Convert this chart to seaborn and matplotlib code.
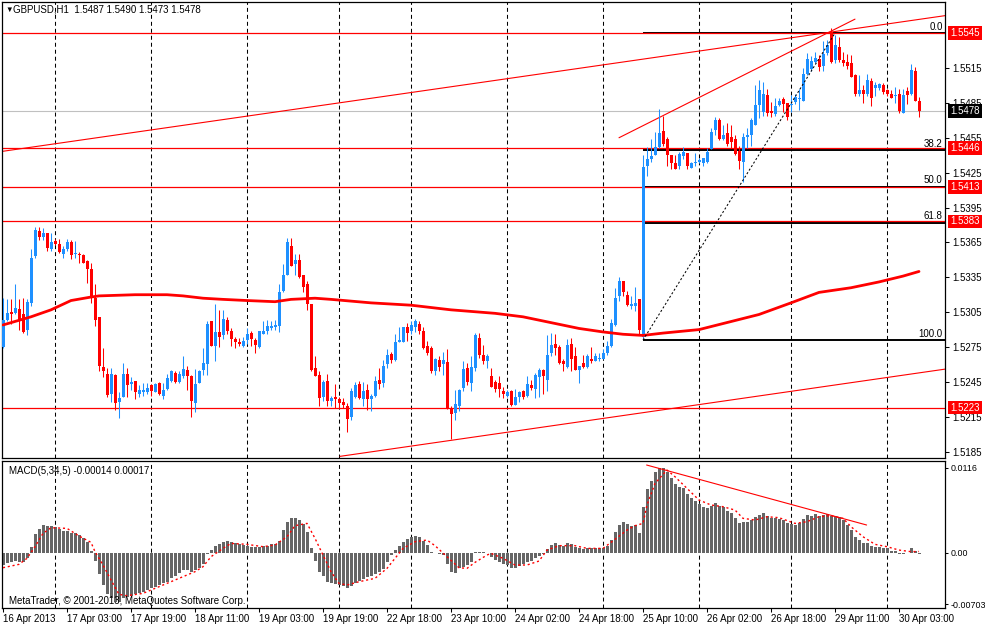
import numpy as np
import matplotlib
matplotlib.use("Agg")
import matplotlib.pyplot as plt
import seaborn as sns

# GBPUSD H1 bars (open, high, low, close)
opens = [
    1.5275, 1.5298, 1.5305, 1.5304, 1.5308, 1.5303, 1.5290, 1.5313, 1.5353, 1.5375,
    1.5370, 1.5373, 1.5359, 1.5366, 1.5364, 1.5355, 1.5359, 1.5365, 1.5355, 1.5355,
    1.5354, 1.5349, 1.5342, 1.5317, 1.5301, 1.5258, 1.5252, 1.5235, 1.5251, 1.5228,
    1.5232, 1.5252, 1.5243, 1.5246, 1.5235, 1.5236, 1.5236, 1.5242, 1.5236, 1.5244,
    1.5233, 1.5239, 1.5246, 1.5253, 1.5245, 1.5250, 1.5255, 1.5250, 1.5227, 1.5244,
    1.5255, 1.5260, 1.5297, 1.5276, 1.5288, 1.5285, 1.5298, 1.5289, 1.5282, 1.5279,
    1.5276, 1.5281, 1.5287, 1.5281, 1.5275, 1.5286, 1.5289, 1.5291, 1.5292, 1.5293,
    1.5323, 1.5337, 1.5362, 1.5346, 1.5350, 1.5337, 1.5329, 1.5312, 1.5257, 1.5251,
    1.5232, 1.5246, 1.5229, 1.5232, 1.5230, 1.5228, 1.5224, 1.5215, 1.5232, 1.5243,
    1.5230, 1.5238, 1.5230, 1.5233, 1.5247, 1.5244, 1.5260, 1.5269, 1.5264, 1.5279,
    1.5279, 1.5292, 1.5289, 1.5292, 1.5295, 1.5289, 1.5276, 1.5274, 1.5254, 1.5264,
    1.5260, 1.5262, 1.5222, 1.5218, 1.5224, 1.5240, 1.5257, 1.5244, 1.5257, 1.5283,
    1.5268, 1.5263, 1.5250, 1.5245, 1.5244, 1.5237, 1.5233, 1.5237, 1.5225, 1.5232,
    1.5237, 1.5233, 1.5242, 1.5239, 1.5249, 1.5255, 1.5247, 1.5270, 1.5278, 1.5275,
    1.5263, 1.5258, 1.5278, 1.5267, 1.5255, 1.5261, 1.5258, 1.5265, 1.5263, 1.5265,
    1.5265, 1.5270, 1.5276, 1.5294, 1.5319, 1.5332, 1.5320, 1.5310, 1.5310, 1.5316,
    1.5284, 1.5431, 1.5437, 1.5440, 1.5447, 1.5461, 1.5454, 1.5440, 1.5433, 1.5431,
    1.5439, 1.5442, 1.5429, 1.5433, 1.5434, 1.5433, 1.5434, 1.5445, 1.5462, 1.5470,
    1.5454, 1.5459, 1.5456, 1.5454, 1.5444, 1.5434, 1.5456, 1.5457, 1.5466, 1.5483,
    1.5477, 1.5492, 1.5478, 1.5475, 1.5483, 1.5488, 1.5485, 1.5483, 1.5486, 1.5488,
    1.5487, 1.5510, 1.5514, 1.5520, 1.5523, 1.5517, 1.5528, 1.5546, 1.5522, 1.5533,
    1.5522, 1.5520, 1.5519, 1.5509, 1.5493, 1.5496, 1.5493, 1.5504, 1.5498, 1.5498,
    1.5500, 1.5496, 1.5493, 1.5491, 1.5493, 1.5476, 1.5495, 1.5493, 1.5512, 1.5487,
]
highs = [
    1.5317, 1.5316, 1.5316, 1.5329, 1.5316, 1.5317, 1.5316, 1.5359, 1.5378, 1.5378,
    1.5377, 1.5373, 1.5373, 1.5368, 1.5368, 1.5362, 1.5368, 1.5367, 1.5366, 1.5357,
    1.5355, 1.5350, 1.5347, 1.5329, 1.5301, 1.5274, 1.5257, 1.5257, 1.5252, 1.5236,
    1.5261, 1.5257, 1.5249, 1.5246, 1.5242, 1.5244, 1.5244, 1.5243, 1.5244, 1.5245,
    1.5244, 1.5252, 1.5255, 1.5254, 1.5254, 1.5267, 1.5259, 1.5251, 1.5256, 1.5255,
    1.5274, 1.5297, 1.5297, 1.5312, 1.5307, 1.5307, 1.5301, 1.5291, 1.5284, 1.5283,
    1.5284, 1.5291, 1.5289, 1.5283, 1.5289, 1.5297, 1.5298, 1.5297, 1.5298, 1.5329,
    1.5346, 1.5369, 1.5369, 1.5355, 1.5355, 1.5337, 1.5332, 1.5312, 1.5267, 1.5254,
    1.5247, 1.5252, 1.5233, 1.5243, 1.5232, 1.5231, 1.5227, 1.5240, 1.5245, 1.5246,
    1.5245, 1.5243, 1.5235, 1.5250, 1.5257, 1.5264, 1.5273, 1.5271, 1.5286, 1.5292,
    1.5292, 1.5296, 1.5297, 1.5299, 1.5297, 1.5292, 1.5280, 1.5276, 1.5266, 1.5267,
    1.5271, 1.5273, 1.5224, 1.5238, 1.5239, 1.5263, 1.5261, 1.5267, 1.5287, 1.5287,
    1.5277, 1.5269, 1.5257, 1.5247, 1.5250, 1.5241, 1.5238, 1.5238, 1.5239, 1.5237,
    1.5238, 1.5250, 1.5247, 1.5253, 1.5257, 1.5256, 1.5285, 1.5287, 1.5286, 1.5277,
    1.5265, 1.5282, 1.5283, 1.5275, 1.5259, 1.5268, 1.5269, 1.5275, 1.5270, 1.5270,
    1.5273, 1.5280, 1.5299, 1.5326, 1.5335, 1.5332, 1.5323, 1.5319, 1.5327, 1.5316,
    1.5440, 1.5447, 1.5454, 1.5460, 1.5480, 1.5474, 1.5456, 1.5440, 1.5440, 1.5443,
    1.5447, 1.5442, 1.5434, 1.5442, 1.5438, 1.5438, 1.5446, 1.5463, 1.5473, 1.5472,
    1.5466, 1.5468, 1.5466, 1.5457, 1.5448, 1.5459, 1.5463, 1.5472, 1.5500, 1.5505,
    1.5503, 1.5497, 1.5486, 1.5489, 1.5489, 1.5490, 1.5485, 1.5492, 1.5493, 1.5497,
    1.5515, 1.5528, 1.5525, 1.5529, 1.5526, 1.5538, 1.5539, 1.5549, 1.5543, 1.5542,
    1.5529, 1.5527, 1.5526, 1.5510, 1.5509, 1.5500, 1.5510, 1.5506, 1.5503, 1.5502,
    1.5502, 1.5497, 1.5496, 1.5499, 1.5497, 1.5497, 1.5499, 1.5518, 1.5516, 1.5490,
]
lows = [
    1.5274, 1.5297, 1.5295, 1.5303, 1.5290, 1.5287, 1.5285, 1.5310, 1.5352, 1.5367,
    1.5367, 1.5358, 1.5358, 1.5363, 1.5356, 1.5352, 1.5358, 1.5351, 1.5352, 1.5347,
    1.5347, 1.5330, 1.5313, 1.5293, 1.5254, 1.5249, 1.5232, 1.5228, 1.5221, 1.5214,
    1.5232, 1.5232, 1.5238, 1.5230, 1.5232, 1.5233, 1.5235, 1.5233, 1.5236, 1.5234,
    1.5230, 1.5238, 1.5245, 1.5244, 1.5244, 1.5248, 1.5238, 1.5215, 1.5219, 1.5244,
    1.5251, 1.5251, 1.5276, 1.5263, 1.5275, 1.5282, 1.5286, 1.5276, 1.5274, 1.5276,
    1.5275, 1.5278, 1.5276, 1.5270, 1.5274, 1.5286, 1.5286, 1.5290, 1.5290, 1.5288,
    1.5322, 1.5337, 1.5345, 1.5337, 1.5334, 1.5322, 1.5307, 1.5254, 1.5250, 1.5224,
    1.5229, 1.5224, 1.5224, 1.5223, 1.5223, 1.5223, 1.5202, 1.5212, 1.5231, 1.5230,
    1.5224, 1.5221, 1.5220, 1.5232, 1.5239, 1.5241, 1.5257, 1.5261, 1.5263, 1.5279,
    1.5279, 1.5280, 1.5286, 1.5288, 1.5286, 1.5273, 1.5268, 1.5253, 1.5251, 1.5254,
    1.5251, 1.5222, 1.5196, 1.5212, 1.5220, 1.5237, 1.5242, 1.5237, 1.5254, 1.5266,
    1.5260, 1.5257, 1.5241, 1.5236, 1.5232, 1.5231, 1.5232, 1.5224, 1.5225, 1.5228,
    1.5230, 1.5232, 1.5238, 1.5231, 1.5232, 1.5235, 1.5237, 1.5267, 1.5268, 1.5260,
    1.5254, 1.5257, 1.5254, 1.5255, 1.5244, 1.5257, 1.5257, 1.5261, 1.5263, 1.5263,
    1.5265, 1.5268, 1.5275, 1.5293, 1.5315, 1.5319, 1.5310, 1.5308, 1.5306, 1.5286,
    1.5283, 1.5422, 1.5434, 1.5440, 1.5446, 1.5448, 1.5431, 1.5428, 1.5428, 1.5428,
    1.5437, 1.5428, 1.5429, 1.5431, 1.5433, 1.5431, 1.5433, 1.5445, 1.5457, 1.5453,
    1.5453, 1.5448, 1.5446, 1.5440, 1.5428, 1.5417, 1.5446, 1.5448, 1.5466, 1.5472,
    1.5474, 1.5474, 1.5473, 1.5474, 1.5482, 1.5477, 1.5470, 1.5477, 1.5484, 1.5479,
    1.5487, 1.5509, 1.5512, 1.5519, 1.5512, 1.5512, 1.5526, 1.5519, 1.5519, 1.5520,
    1.5517, 1.5514, 1.5507, 1.5491, 1.5491, 1.5485, 1.5491, 1.5482, 1.5491, 1.5496,
    1.5493, 1.5491, 1.5489, 1.5485, 1.5476, 1.5476, 1.5484, 1.5492, 1.5487, 1.5473,
]
closes = [
    1.5298, 1.5304, 1.5303, 1.5309, 1.5298, 1.5288, 1.5314, 1.5352, 1.5376, 1.5370,
    1.5373, 1.5360, 1.5365, 1.5364, 1.5357, 1.5359, 1.5365, 1.5354, 1.5356, 1.5354,
    1.5347, 1.5342, 1.5318, 1.5298, 1.5259, 1.5254, 1.5234, 1.5252, 1.5227, 1.5231,
    1.5252, 1.5242, 1.5245, 1.5236, 1.5238, 1.5238, 1.5240, 1.5237, 1.5243, 1.5235,
    1.5238, 1.5248, 1.5254, 1.5245, 1.5252, 1.5256, 1.5250, 1.5229, 1.5243, 1.5254,
    1.5261, 1.5295, 1.5276, 1.5288, 1.5284, 1.5299, 1.5289, 1.5282, 1.5279, 1.5278,
    1.5280, 1.5286, 1.5282, 1.5277, 1.5289, 1.5289, 1.5293, 1.5293, 1.5294, 1.5322,
    1.5337, 1.5365, 1.5345, 1.5350, 1.5335, 1.5327, 1.5312, 1.5255, 1.5250, 1.5231,
    1.5245, 1.5229, 1.5231, 1.5230, 1.5227, 1.5225, 1.5213, 1.5237, 1.5242, 1.5231,
    1.5237, 1.5230, 1.5233, 1.5246, 1.5243, 1.5259, 1.5268, 1.5264, 1.5279, 1.5281,
    1.5292, 1.5287, 1.5294, 1.5297, 1.5289, 1.5274, 1.5270, 1.5254, 1.5265, 1.5258,
    1.5264, 1.5223, 1.5217, 1.5226, 1.5238, 1.5256, 1.5245, 1.5258, 1.5285, 1.5268,
    1.5263, 1.5267, 1.5241, 1.5239, 1.5239, 1.5235, 1.5236, 1.5225, 1.5232, 1.5236,
    1.5232, 1.5243, 1.5240, 1.5251, 1.5255, 1.5250, 1.5268, 1.5277, 1.5274, 1.5261,
    1.5260, 1.5277, 1.5265, 1.5255, 1.5259, 1.5258, 1.5267, 1.5263, 1.5267, 1.5266,
    1.5270, 1.5276, 1.5296, 1.5317, 1.5332, 1.5322, 1.5311, 1.5312, 1.5313, 1.5290,
    1.5430, 1.5437, 1.5439, 1.5447, 1.5459, 1.5450, 1.5440, 1.5433, 1.5428, 1.5441,
    1.5443, 1.5431, 1.5433, 1.5434, 1.5436, 1.5438, 1.5443, 1.5460, 1.5470, 1.5454,
    1.5457, 1.5450, 1.5451, 1.5441, 1.5435, 1.5456, 1.5457, 1.5470, 1.5483, 1.5496,
    1.5493, 1.5476, 1.5476, 1.5482, 1.5487, 1.5484, 1.5473, 1.5484, 1.5490, 1.5489,
    1.5510, 1.5523, 1.5521, 1.5524, 1.5516, 1.5527, 1.5535, 1.5520, 1.5535, 1.5522,
    1.5519, 1.5517, 1.5507, 1.5493, 1.5496, 1.5493, 1.5505, 1.5489, 1.5500, 1.5501,
    1.5494, 1.5493, 1.5489, 1.5492, 1.5478, 1.5492, 1.5492, 1.5513, 1.5487, 1.5478,
]

# moving average, read at a few bars
ma_bars = [0, 7, 12, 17, 22, 24, 33, 41, 45, 50, 55, 61, 68, 72, 78, 82, 92, 102, 112,
           123, 130, 137, 144, 150, 155, 160, 165, 174, 189, 197, 204, 212, 219, 225, 229]
ma_vals = [1.5294, 1.5301, 1.5307, 1.5315, 1.5318, 1.5319, 1.5320, 1.5320, 1.5319, 1.5317,
           1.5316, 1.5315, 1.5314, 1.5316, 1.5317, 1.5316, 1.5313, 1.5311, 1.5307, 1.5304,
           1.5301, 1.5296, 1.5291, 1.5288, 1.5286, 1.5285, 1.5287, 1.5290, 1.5303, 1.5313,
           1.5322, 1.5326, 1.5331, 1.5336, 1.5340]

# MACD(5,34,5) main histogram, one value per bar
macd = [
    -0.00168, -0.00146, -0.00123, -0.00114, -0.00123, -0.00132, -0.00077, 0.00082, 0.00250, 0.00323,
    0.00378, 0.00369, 0.00369, 0.00355, 0.00323, 0.00296, 0.00296, 0.00264, 0.00264, 0.00241,
    0.00205, 0.00141, 0.00023, -0.00114, -0.00296, -0.00441, -0.00569, -0.00614, -0.00669, -0.00669,
    -0.00614, -0.00601, -0.00587, -0.00569, -0.00555, -0.00541, -0.00510, -0.00487, -0.00464, -0.00441,
    -0.00419, -0.00396, -0.00350, -0.00314, -0.00282, -0.00237, -0.00237, -0.00259, -0.00237, -0.00205,
    -0.00159, -0.00023, 0.00036, 0.00096, 0.00114, 0.00150, 0.00159, 0.00141, 0.00127, 0.00114,
    0.00105, 0.00096, 0.00082, 0.00082, 0.00082, 0.00091, 0.00096, 0.00114, 0.00114, 0.00159,
    0.00309, 0.00423, 0.00469, 0.00478, 0.00446, 0.00387, 0.00278, 0.00059, -0.00114, -0.00259,
    -0.00314, -0.00396, -0.00419, -0.00432, -0.00441, -0.00455, -0.00478, -0.00450, -0.00419, -0.00387,
    -0.00359, -0.00328, -0.00314, -0.00296, -0.00259, -0.00223, -0.00123, -0.00032, 0.00036, 0.00096,
    0.00141, 0.00182, 0.00218, 0.00232, 0.00218, 0.00159, 0.00105, 0.00014, -0.00009, -0.00023,
    -0.00032, -0.00159, -0.00268, -0.00282, -0.00214, -0.00191, -0.00168, -0.00132, 0.00005, 0.00014,
    0.00014, -0.00009, -0.00055, -0.00100, -0.00132, -0.00159, -0.00168, -0.00205, -0.00205, -0.00177,
    -0.00159, -0.00132, -0.00114, -0.00077, -0.00041, -0.00023, 0.00045, 0.00105, 0.00127, 0.00105,
    0.00096, 0.00127, 0.00114, 0.00082, 0.00068, 0.00050, 0.00068, 0.00059, 0.00059, 0.00059,
    0.00068, 0.00096, 0.00173, 0.00278, 0.00378, 0.00414, 0.00387, 0.00369, 0.00378, 0.00264,
    0.00619, 0.00869, 0.00978, 0.01097, 0.01151, 0.01151, 0.01106, 0.01015, 0.00933, 0.00901,
    0.00878, 0.00796, 0.00742, 0.00705, 0.00660, 0.00628, 0.00614, 0.00642, 0.00673, 0.00642,
    0.00628, 0.00569, 0.00537, 0.00478, 0.00400, 0.00414, 0.00423, 0.00446, 0.00491, 0.00514,
    0.00537, 0.00505, 0.00478, 0.00469, 0.00460, 0.00446, 0.00400, 0.00387, 0.00378, 0.00400,
    0.00460, 0.00514, 0.00505, 0.00523, 0.00505, 0.00514, 0.00523, 0.00505, 0.00505, 0.00491,
    0.00446, 0.00378, 0.00309, 0.00218, 0.00173, 0.00127, 0.00127, 0.00096, 0.00082, 0.00082,
    0.00068, 0.00059, 0.00027, 0.00027, -0.00023, -0.00018, -0.00009, 0.00059, 0.00023, -0.00014,
]

# signal line, read at a few bars
sig_bars = [0, 4, 6, 8, 10, 12, 16, 19, 22, 23, 25, 27, 29, 31, 35, 39, 43, 48, 50, 52,
            55, 57, 61, 65, 68, 71, 73, 76, 78, 80, 82, 84, 86, 89, 93, 96, 98, 100, 103, 106,
            108, 111, 114, 116, 118, 121, 122, 125, 128, 131, 134, 136, 139, 143, 146, 150, 152, 156, 158, 160,
            161, 163, 166, 168, 171, 174, 177, 180, 183, 185, 188, 191, 194, 198, 201, 204, 207, 210, 212, 215,
            218, 221, 224, 227, 229]
sig_vals = [-0.00205, -0.00159, -0.00077, 0.00082, 0.00264, 0.00341, 0.00332, 0.00228, 0.00141, 0.00014,
            -0.00168, -0.00373, -0.00569, -0.00587, -0.00555, -0.00464, -0.00373, -0.00259, -0.00191, -0.00055,
            0.00059, 0.00127, 0.00114, 0.00082, 0.00105, 0.00218, 0.00369, 0.00400, 0.00196, -0.00032,
            -0.00259, -0.00419, -0.00441, -0.00396, -0.00350, -0.00214, -0.00077, 0.00059, 0.00150, 0.00173,
            0.00096, -0.00055, -0.00205, -0.00214, -0.00132, -0.00032, -0.00009, -0.00077, -0.00168, -0.00168,
            -0.00114, 0.00036, 0.00096, 0.00096, 0.00059, 0.00059, 0.00141, 0.00309, 0.00369, 0.00400,
            0.00651, 0.00946, 0.01128, 0.01037, 0.00878, 0.00719, 0.00651, 0.00628, 0.00582, 0.00469,
            0.00446, 0.00491, 0.00478, 0.00400, 0.00423, 0.00491, 0.00505, 0.00469, 0.00355, 0.00218,
            0.00114, 0.00082, 0.00036, 0.00014, 0.00017]

hlines_red = [1.5545, 1.5446, 1.5413, 1.5383, 1.5223]
last_price = 1.5478
fib_low, fib_high = 1.5281, 1.5545
fib_ratios = [0.0, 0.382, 0.5, 0.618, 1.0]
fib_names = ["0.0", "38.2", "50.0", "61.8", "100.0"]
fib_start = 160
separators = [13, 37, 61, 84, 102, 126, 150, 174, 197, 221]
date_pos = [0, 16, 32, 48, 64, 80, 96, 112, 128, 144, 160, 176, 192, 208, 224]
date_labels = ["16 Apr 2013", "17 Apr 03:00", "17 Apr 19:00", "18 Apr 11:00", "19 Apr 03:00",
               "19 Apr 19:00", "22 Apr 18:00", "23 Apr 10:00", "24 Apr 02:00", "24 Apr 18:00",
               "25 Apr 10:00", "26 Apr 02:00", "26 Apr 18:00", "29 Apr 11:00", "30 Apr 03:00"]
price_ticks = [1.5185, 1.5215, 1.5245, 1.5275, 1.5305, 1.5335, 1.5365, 1.5395,
               1.5425, 1.5455, 1.5485, 1.5515]

sns.set_theme(style="white")
plt.rcParams["font.family"] = ["Liberation Sans", "DejaVu Sans"]

W, H = 985, 627
fig = plt.figure(figsize=(W / 100, H / 100), dpi=100)
ax = fig.add_axes([2 / W, 1 - 458 / H, 943 / W, 456 / H])
axm = fig.add_axes([2 / W, 1 - 608 / H, 943 / W, 147 / H])

xlo, xhi = -0.25, 235.5
dash = (0, (3.8, 2.9))
FS = 7

# ---------- price panel ----------
bars = np.arange(len(closes))
o = np.array(opens); c = np.array(closes)
up = c >= o
cols = np.where(up, "#1E90FF", "#FF0000")
ax.vlines(bars, lows, highs, colors=cols, lw=0.75, zorder=3)
body_h = np.maximum(np.abs(c - o), 0.00009)
ax.bar(bars, body_h, bottom=np.minimum(o, c), width=0.75, color=cols, linewidth=0, zorder=3)

sns.lineplot(x=ma_bars, y=ma_vals, ax=ax, color="#FF0000", lw=2.0, zorder=4)

for b in separators:
    ax.axvline(b, color="black", lw=0.75, ls=dash, zorder=1)
    axm.axvline(b, color="black", lw=0.75, ls=dash, zorder=1)

ax.axhline(last_price, color="#C0C0C0", lw=0.8, zorder=1)
# fibonacci levels
for r, name in zip(fib_ratios, fib_names):
    lv = fib_high - r * (fib_high - fib_low)
    ax.hlines(lv, fib_start, xhi, colors="black", lw=1.4, zorder=2)
    ax.text(xhi - 0.6, lv + 0.00012, name, ha="right", va="bottom", fontsize=FS, color="black")
for v in hlines_red:
    ax.axhline(v, color="#FF0000", lw=0.9, zorder=2.5)
ax.plot([fib_start, 208], [fib_low, fib_high], color="black", lw=0.75, ls=(0, (2, 2)), zorder=5)

# trend lines
ax.plot([-0.75, 235.5], [1.5443, 1.5560], color="#FF0000", lw=0.8, zorder=2)
ax.plot([84.25, 235.5], [1.5181, 1.5256], color="#FF0000", lw=0.8, zorder=2)
ax.plot([154, 213], [1.5455, 1.5557], color="#FF0000", lw=0.8, zorder=2)

ax.set_xlim(xlo, xhi)
ax.set_ylim(1.517958, 1.557174)
ax.set_xticks([])
ax.yaxis.tick_right()
ax.set_yticks(price_ticks)
ax.set_yticklabels([f"{t:.4f}" for t in price_ticks])
ax.tick_params(axis="y", labelsize=FS, length=3, width=0.75, pad=2, colors="black", right=True)

tr = ax.get_yaxis_transform()
for v in hlines_red:
    ax.text(1.0055, v, f"{v:.4f}", transform=tr, ha="left", va="center", fontsize=FS,
            color="white", clip_on=False, zorder=6,
            bbox=dict(boxstyle="square,pad=0.2", fc="#FF0000", ec="none"))
ax.text(1.0055, last_price, f"{last_price:.4f}", transform=tr, ha="left", va="center",
        fontsize=FS, color="white", clip_on=False, zorder=6,
        bbox=dict(boxstyle="square,pad=0.2", fc="black", ec="none"))

ax.text(3 / 943, 1 - 8 / 456, "\u25BC", transform=ax.transAxes, fontsize=5.5,
        ha="left", va="center", color="black")
ax.text(11 / 943, 1 - 8 / 456, "GBPUSD,H1  1.5487 1.5490 1.5473 1.5478",
        transform=ax.transAxes, fontsize=FS, ha="left", va="center", color="black")

# ---------- MACD panel ----------
axm.bar(bars, macd, width=0.75, color="#666666", linewidth=0, zorder=2)
sns.lineplot(x=sig_bars, y=sig_vals, ax=axm, color="#FF0000", lw=1.0,
             linestyle=(0, (1.5, 2)), zorder=3)
axm.plot([160.9, 215.9], [0.01197, 0.00378], color="#FF0000", lw=0.8, zorder=3)
axm.set_xlim(xlo, xhi)
axm.set_ylim(-0.007548, 0.012517)
axm.yaxis.tick_right()
axm.set_yticks([0.0116, 0.0, -0.00703])
axm.set_yticklabels(["0.0116", "0.00", "-0.00703"])
axm.tick_params(axis="y", labelsize=6.4, length=2.5, width=0.75, pad=1.2, colors="black", right=True)
axm.set_xticks(date_pos)
axm.set_xticklabels(date_labels)
axm.tick_params(axis="x", labelsize=FS, length=3, width=0.75, pad=1.5, colors="black", bottom=True)
for lab in axm.get_xticklabels():
    lab.set_horizontalalignment("left")
axm.text(7 / 943, 1 - 10 / 147, "MACD(5,34,5) -0.00014 0.00017", transform=axm.transAxes,
         fontsize=FS, ha="left", va="center", color="black")
axm.text(7 / 943, 7 / 147, "MetaTrader, \u00A9 2001-2013, MetaQuotes Software Corp.",
         transform=axm.transAxes, fontsize=FS, ha="left", va="center", color="black", zorder=6)

for a in (ax, axm):
    a.set_xlabel("")
    a.set_ylabel("")
    for s in a.spines.values():
        s.set_color("black")
        s.set_linewidth(0.9)
        s.set_visible(True)
    a.set_facecolor("white")
    if a.get_legend() is not None:
        a.get_legend().remove()

fig.savefig("out.png", dpi=100, facecolor="white")
